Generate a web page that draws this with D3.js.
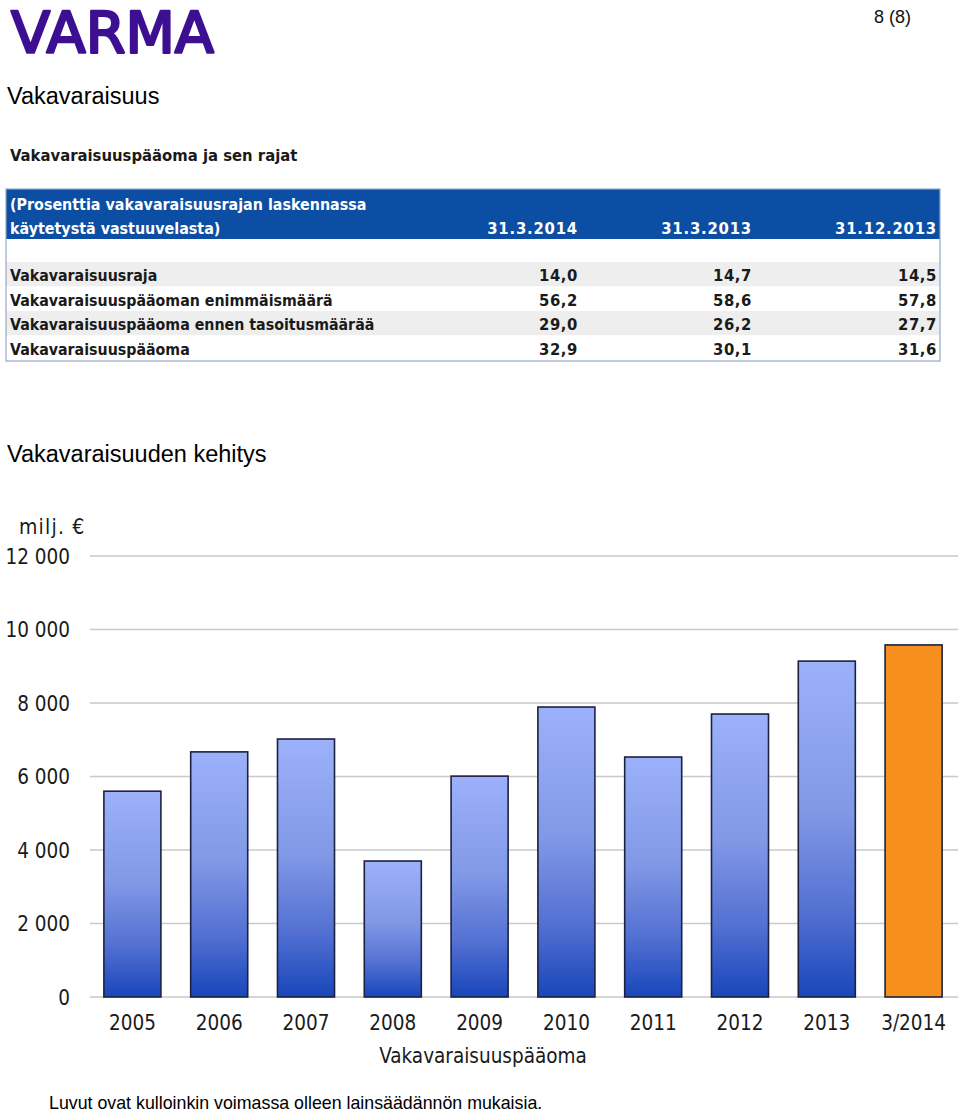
<!DOCTYPE html>
<html>
<head>
<meta charset="utf-8">
<script src="https://cdn.jsdelivr.net/npm/d3@7"></script>
<style>
  body { margin: 0; background: #fff; }
  svg { display: block; }
</style>
</head>
<body>
<svg id="page"></svg>
<script>
// chart data
var years = ["2005", "2006", "2007", "2008", "2009", "2010", "2011", "2012", "2013", "3/2014"];
var capital = [5600, 6670, 7020, 3700, 6010, 7890, 6530, 7700, 9140, 9580];
var yTicks = [0, 2000, 4000, 6000, 8000, 10000, 12000];

// table data
var tableColumns = ["31.3.2014", "31.3.2013", "31.12.2013"];
var tableRows = [
  "Vakavaraisuusraja",
  "Vakavaraisuuspääoman enimmäismäärä",
  "Vakavaraisuuspääoma ennen tasoitusmäärää",
  "Vakavaraisuuspääoma"
];
var tableValues = [
  [14.0, 14.7, 14.5],
  [56.2, 58.6, 57.8],
  [29.0, 26.2, 27.7],
  [32.9, 30.1, 31.6]
];

var width = 960, height = 1115;
var chartFont = "'DejaVu Sans Condensed', 'DejaVu Sans', sans-serif";
var pageFont = "'Liberation Sans', Arial, sans-serif";

let svg = d3.select("#page")
  .attr("width", width)
  .attr("height", height);

// gradient for the blue bars
let defs = svg.append("defs");
let grad = defs.append("linearGradient")
  .attr("id", "barBlue")
  .attr("x1", 0).attr("y1", 0)
  .attr("x2", 0).attr("y2", 1);
grad.append("stop").attr("offset", "0%").attr("stop-color", "#9cb1fa");
grad.append("stop").attr("offset", "45%").attr("stop-color", "#8198e6");
grad.append("stop").attr("offset", "75%").attr("stop-color", "#5370d2");
grad.append("stop").attr("offset", "100%").attr("stop-color", "#1846ba");

// header: logo + page number
svg.append("text")
  .attr("x", 11).attr("y", 53)
  .attr("font-family", "'DejaVu Sans', sans-serif")
  .attr("font-size", 57)
  .attr("fill", "#3d0f91")
  .attr("stroke", "#3d0f91")
  .attr("stroke-width", 2.6)
  .attr("stroke-linejoin", "round")
  .attr("textLength", 203)
  .attr("lengthAdjust", "spacingAndGlyphs")
  .text("VARMA");

svg.append("text")
  .attr("x", 911).attr("y", 23)
  .attr("text-anchor", "end")
  .attr("font-family", pageFont)
  .attr("font-size", 18)
  .attr("fill", "#111")
  .text("8 (8)");

svg.append("text")
  .attr("x", 7).attr("y", 104)
  .attr("font-family", pageFont)
  .attr("font-size", 23.5)
  .attr("fill", "#000")
  .text("Vakavaraisuus");

svg.append("text")
  .attr("x", 7).attr("y", 462)
  .attr("font-family", pageFont)
  .attr("font-size", 23.5)
  .attr("fill", "#000")
  .text("Vakavaraisuuden kehitys");

// ---------- table ----------
var tbl = svg.append("g");
var colRight = [578, 752, 937];
var rowTop = 262, rowH = 24.5;
var fmtPct = v => d3.format(".1f")(v).replace(".", ",");

tbl.append("text")
  .attr("x", 10).attr("y", 161)
  .attr("font-family", chartFont)
  .attr("font-weight", "bold")
  .attr("font-size", 16.5)
  .attr("fill", "#1a1a1a")
  .text("Vakavaraisuuspääoma ja sen rajat");

tbl.append("rect")
  .attr("x", 6).attr("y", 189)
  .attr("width", 934).attr("height", 50)
  .attr("fill", "#0c4ea3");

tbl.selectAll("rect.row")
  .data(tableRows)
  .enter()
  .append("rect")
  .attr("class", "row")
  .attr("x", 6)
  .attr("y", (d, i) => rowTop + i * rowH)
  .attr("width", 934)
  .attr("height", rowH)
  .attr("fill", (d, i) => i % 2 == 0 ? "#eeeeee" : "#ffffff");

tbl.append("rect")
  .attr("x", 6).attr("y", 189)
  .attr("width", 934).attr("height", 172)
  .attr("fill", "none")
  .attr("stroke", "#93a8c8")
  .attr("stroke-width", 1.2);

var headLines = ["(Prosenttia vakavaraisuusrajan laskennassa", "käytetystä vastuuvelasta)"];
tbl.selectAll("text.head")
  .data(headLines)
  .enter()
  .append("text")
  .attr("class", "head")
  .attr("x", 10)
  .attr("y", (d, i) => 210 + i * 24)
  .attr("font-family", chartFont)
  .attr("font-weight", "bold")
  .attr("font-size", 15.9)
  .attr("fill", "#fff")
  .text(d => d);

tbl.selectAll("text.col")
  .data(tableColumns)
  .enter()
  .append("text")
  .attr("class", "col")
  .attr("x", (d, i) => colRight[i])
  .attr("y", 234)
  .attr("text-anchor", "end")
  .attr("font-family", chartFont)
  .attr("font-weight", "bold")
  .attr("font-size", 16.5)
  .attr("letter-spacing", 0.8)
  .attr("fill", "#fff")
  .text(d => d);

tbl.selectAll("text.rowlabel")
  .data(tableRows)
  .enter()
  .append("text")
  .attr("class", "rowlabel")
  .attr("x", 10)
  .attr("y", (d, i) => rowTop + i * rowH + 19)
  .attr("font-family", chartFont)
  .attr("font-weight", "bold")
  .attr("font-size", 15.8)
  .attr("fill", "#1a1a1a")
  .text(d => d);

tableValues.forEach((row, i) => {
  tbl.selectAll("text.val" + i)
    .data(row)
    .enter()
    .append("text")
    .attr("class", "val" + i)
    .attr("x", (d, j) => colRight[j])
    .attr("y", rowTop + i * rowH + 19)
    .attr("text-anchor", "end")
    .attr("font-family", chartFont)
    .attr("font-weight", "bold")
    .attr("font-size", 16.5)
    .attr("letter-spacing", 0.6)
    .attr("fill", "#1a1a1a")
    .text(d => fmtPct(d));
});

// ---------- bar chart ----------
let x = d3.scaleBand()
  .domain(years)
  .range([89, 957])
  .paddingInner(0.343)
  .paddingOuter(0.1715);

let y = d3.scaleLinear()
  .domain([0, 12000])
  .range([997, 556]);

var fmtTick = v => d3.format(",")(v).replace(/,/g, " ");

// gridlines
svg.append("g")
  .selectAll("line")
  .data(yTicks)
  .enter()
  .append("line")
  .attr("x1", 90)
  .attr("x2", 958)
  .attr("y1", d => y(d))
  .attr("y2", d => y(d))
  .attr("stroke", "#c9c9c9")
  .attr("stroke-width", 1.6);

// y axis labels
let yAxis = svg.append("g")
  .attr("transform", "translate(70,0)")
  .call(d3.axisLeft(y).tickValues(yTicks).tickFormat(fmtTick).tickSize(0).tickPadding(0));
yAxis.select(".domain").remove();
yAxis.selectAll("text")
  .attr("font-family", chartFont)
  .attr("font-size", 20.5)
  .attr("fill", "#1a1a1a")
  .attr("dy", "0.36em");

svg.append("text")
  .attr("x", 19).attr("y", 534)
  .attr("font-family", chartFont)
  .attr("font-size", 21)
  .attr("letter-spacing", 1.2)
  .attr("fill", "#1a1a1a")
  .text("milj. €");

// bars
svg.append("g")
  .selectAll("rect")
  .data(capital)
  .enter()
  .append("rect")
  .attr("x", (d, i) => x(years[i]))
  .attr("y", d => y(d))
  .attr("width", x.bandwidth())
  .attr("height", d => y(0) - y(d))
  .attr("fill", (d, i) => i == years.length - 1 ? "#f78f1e" : "url(#barBlue)")
  .attr("stroke", "#1b2240")
  .attr("stroke-width", 1.6);

// x axis labels
let xAxis = svg.append("g")
  .attr("transform", "translate(0,1015)")
  .call(d3.axisBottom(x).tickSize(0).tickPadding(0));
xAxis.select(".domain").remove();
xAxis.selectAll("text")
  .attr("font-family", chartFont)
  .attr("font-size", 20.5)
  .attr("fill", "#1a1a1a")
  .attr("dy", "0.71em");

svg.append("text")
  .attr("x", 483).attr("y", 1063)
  .attr("text-anchor", "middle")
  .attr("font-family", chartFont)
  .attr("font-size", 20.5)
  .attr("fill", "#1a1a1a")
  .text("Vakavaraisuuspääoma");

// footnote
svg.append("text")
  .attr("x", 49).attr("y", 1109)
  .attr("font-family", pageFont)
  .attr("font-size", 17.8)
  .attr("fill", "#000")
  .text("Luvut ovat kulloinkin voimassa olleen lainsäädännön mukaisia.");
</script>
</body>
</html>
